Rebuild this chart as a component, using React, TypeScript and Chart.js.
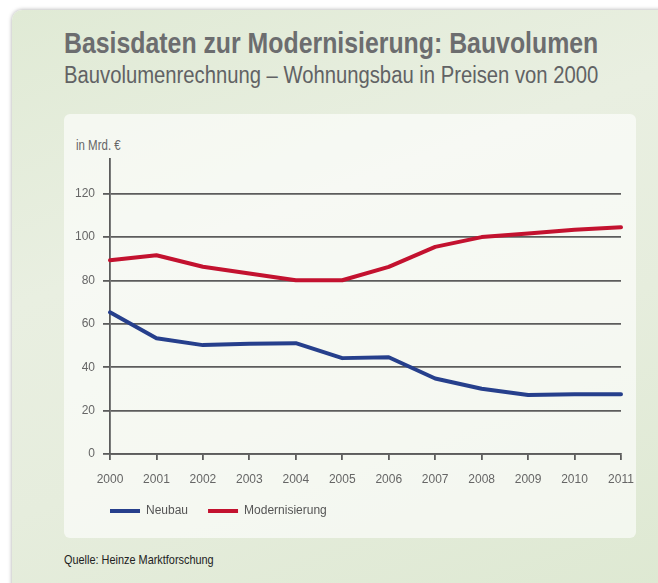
import React, { useEffect, useRef } from "react";
import { Chart, registerables } from "chart.js";

Chart.register(...registerables);

const years = ["2000", "2001", "2002", "2003", "2004", "2005", "2006", "2007", "2008", "2009", "2010", "2011"];
const neubau = [65.3, 53.4, 50.2, 50.8, 51.1, 44.2, 44.6, 34.8, 30.1, 27.2, 27.6, 27.5];
const modernisierung = [89.3, 91.6, 86.3, 83.2, 80.1, 80.1, 86.3, 95.5, 100.0, 101.7, 103.4, 104.5];
const seriesNames = ["Neubau", "Modernisierung"];
const seriesColors = ["#263f8c", "#c3122f"];
const yTicksMax = 120;

const CANVAS_FONT = '"Liberation Sans", Arial, sans-serif';
const HTML_FONT = '"Liberation Sans", Arial, sans-serif';

const legendShift = {
  id: "legendShift",
  afterLayout(c: any) {
    const lg = c.legend;
    if (lg) {
      lg.left += 26;
      lg.right += 26;
    }
  },
};

const condensed = (extra: React.CSSProperties): React.CSSProperties => ({
  position: "absolute",
  whiteSpace: "nowrap",
  transform: "scaleX(0.82)",
  transformOrigin: "0 0",
  fontFamily: HTML_FONT,
  ...extra,
});

export default function App() {
  const ref = useRef<HTMLCanvasElement | null>(null);

  useEffect(() => {
    if (!ref.current) return;
    const chart = new Chart(ref.current, {
      type: "line",
      data: {
        labels: years,
        datasets: [
          {
            label: seriesNames[0],
            data: neubau,
            borderColor: seriesColors[0],
            backgroundColor: seriesColors[0],
            borderWidth: 4,
            pointRadius: 0,
            tension: 0,
            borderJoinStyle: "round",
            borderCapStyle: "round",
          },
          {
            label: seriesNames[1],
            data: modernisierung,
            borderColor: seriesColors[1],
            backgroundColor: seriesColors[1],
            borderWidth: 4,
            pointRadius: 0,
            tension: 0,
            borderJoinStyle: "round",
            borderCapStyle: "round",
          },
        ],
      },
      plugins: [legendShift],
      options: {
        animation: false,
        responsive: false,
        maintainAspectRatio: false,
        layout: { padding: { top: 45, left: 0, right: 15, bottom: 11 } },
        plugins: {
          title: { display: false },
          tooltip: { enabled: false },
          legend: {
            display: true,
            position: "bottom",
            align: "start",
            labels: {
              boxWidth: 30,
              boxHeight: 4,
              padding: 20,
              color: "#555",
              font: { family: CANVAS_FONT, size: 12 },
              generateLabels: (c: any) =>
                Chart.defaults.plugins.legend.labels
                  .generateLabels(c)
                  .map((l: any) => ({ ...l, lineWidth: 0, fillStyle: l.strokeStyle })),
            },
          },
        },
        scales: {
          x: {
            offset: false,
            afterFit: (s: any) => {
              s.height = 31;
              s.paddingLeft = 0;
              s.paddingRight = 0;
            },
            grid: {
              drawOnChartArea: false,
              drawTicks: true,
              tickLength: 6,
              color: "#5c5c5c",
              lineWidth: 1.8,
            },
            border: { display: true, color: "#5c5c5c", width: 1.8 },
            ticks: {
              autoSkip: false,
              maxRotation: 0,
              padding: 12,
              color: "#666",
              font: { family: CANVAS_FONT, size: 12 },
            },
          },
          y: {
            min: 0,
            max: 136,
            afterFit: (s: any) => {
              s.width = 46;
            },
            grid: {
              color: "#5c5c5c",
              lineWidth: 1.8,
              tickLength: 7,
              drawTicks: true,
            },
            border: { display: true, color: "#5c5c5c", width: 1.8 },
            ticks: {
              stepSize: 20,
              includeBounds: false,
              padding: 8,
              color: "#666",
              font: { family: CANVAS_FONT, size: 12 },
              callback: (v: any) => (Number(v) <= yTicksMax ? String(v) : ""),
            },
          },
        },
      },
    });
    return () => chart.destroy();
  }, []);

  return (
    <div
      style={{
        position: "absolute",
        left: 0,
        top: 0,
        width: 658,
        height: 583,
        overflow: "hidden",
        background: "#ffffff",
        fontFamily: HTML_FONT,
      }}
    >
      <div
        style={{
          position: "absolute",
          left: 12,
          top: 10,
          width: 680,
          height: 600,
          borderRadius: 10,
          background:
            "linear-gradient(160deg, #e0ead5 0%, #e9efe1 35%, #e6eddd 60%, #dde8d1 100%)",
          boxShadow: "0 0 4px rgba(0,0,0,0.35)",
        }}
      />
      <div
        style={condensed({
          left: 64,
          top: 28,
          fontSize: 30.3,
          lineHeight: "30px",
          fontWeight: "bold",
          color: "#6c6d6f",
        })}
      >
        Basisdaten zur Modernisierung: Bauvolumen
      </div>
      <div
        style={condensed({
          left: 64,
          top: 63,
          fontSize: 24.7,
          lineHeight: "24px",
          color: "#616264",
        })}
      >
        Bauvolumenrechnung – Wohnungsbau in Preisen von 2000
      </div>
      <div
        style={{
          position: "absolute",
          left: 64,
          top: 114,
          width: 572,
          height: 424,
          borderRadius: 6,
          background: "rgba(255,255,255,0.62)",
        }}
      />
      <div
        style={condensed({
          left: 76,
          top: 139,
          fontSize: 14,
          lineHeight: "13px",
          color: "#666",
        })}
      >
        in Mrd. €
      </div>
      <canvas
        ref={ref}
        width={572}
        height={424}
        style={{ position: "absolute", left: 64, top: 114, width: 572, height: 424 }}
      />
      <div
        style={condensed({
          left: 64,
          top: 553,
          fontSize: 13.3,
          lineHeight: "13px",
          color: "#222",
        })}
      >
        Quelle: Heinze Marktforschung
      </div>
    </div>
  );
}
